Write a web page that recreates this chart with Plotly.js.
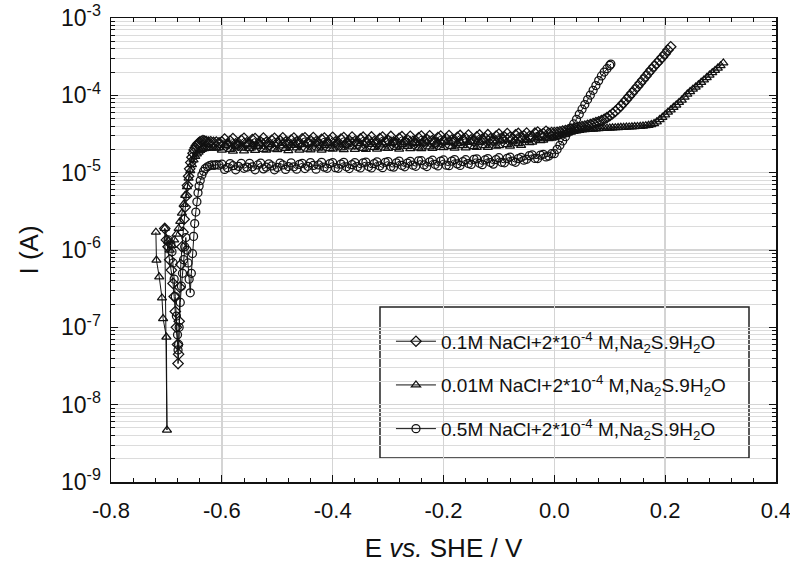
<!DOCTYPE html>
<html>
<head>
<meta charset="utf-8">
<script src="https://cdn.plot.ly/plotly-3.0.1.min.js"></script>
<style>html,body{margin:0;padding:0;background:#fff;}#chart{width:790px;height:570px;}</style>
</head>
<body>
<div id="chart"></div>
<script>
// ---- Data: E in V vs. SHE, current in microamperes (converted to A for plotting) ----

// 0.1M NaCl (diamonds)
const E_01 = [
  -0.703,-0.700,-0.697,-0.694,-0.691,-0.688,-0.686,-0.684,-0.682,-0.680,
  -0.679,-0.678,-0.677,-0.676,-0.674,-0.672,-0.670,-0.668,-0.666,-0.664,
  -0.662,-0.660,-0.658,-0.656,-0.654,-0.652,-0.650,-0.648,-0.646,-0.644,
  -0.642,-0.640,-0.637,-0.634,-0.631,-0.628,-0.624,-0.620,-0.615,-0.610,
  -0.605,
  -0.600,-0.595,-0.590,-0.585,-0.580,-0.575,-0.570,-0.565,-0.560,-0.555,
  -0.550,-0.545,-0.540,-0.535,-0.530,-0.525,-0.520,-0.515,-0.510,-0.505,
  -0.500,-0.495,-0.490,-0.485,-0.480,-0.475,-0.470,-0.465,-0.460,-0.455,
  -0.450,-0.445,-0.440,-0.435,-0.430,-0.425,-0.420,-0.415,-0.410,-0.405,
  -0.400,-0.395,-0.390,-0.385,-0.380,-0.375,-0.370,-0.365,-0.360,-0.355,
  -0.350,-0.345,-0.340,-0.335,-0.330,-0.325,-0.320,-0.315,-0.310,-0.305,
  -0.300,-0.295,-0.290,-0.285,-0.280,-0.275,-0.270,-0.265,-0.260,-0.255,
  -0.250,-0.245,-0.240,-0.235,-0.230,-0.225,-0.220,-0.215,-0.210,-0.205,
  -0.200,-0.195,-0.190,-0.185,-0.180,-0.175,-0.170,-0.165,-0.160,-0.155,
  -0.150,-0.145,-0.140,-0.135,-0.130,-0.125,-0.120,-0.115,-0.110,-0.105,
  -0.100,-0.095,-0.090,-0.085,-0.080,-0.075,-0.070,-0.065,-0.060,-0.055,
  -0.050,-0.045,-0.040,-0.035,-0.030,-0.025,-0.020,-0.015,-0.010,-0.005,
  0.000,
  0.005,0.010,0.015,0.020,0.025,0.030,0.035,0.040,0.045,0.050,
  0.055,0.060,0.065,0.070,0.075,0.080,0.085,0.090,0.095,0.100,
  0.105,0.110,0.115,0.120,0.125,0.130,0.135,0.140,0.145,0.150,
  0.155,0.160,0.165,0.170,0.175,0.180,0.185,0.190,0.195,0.200,
  0.205,0.210
];
const I_01_uA = [
  1.9,1.35,1.1,0.75,0.55,0.37,0.25,0.16,0.1,0.06,
  0.034,0.045,0.12,0.33,0.65,1.1,1.7,2.5,3.6,5.0,
  6.8,9.0,11.2,13.5,15.8,17.8,19.6,21,22.3,23.3,
  24.2,24.8,25.5,26,25.6,25.2,24.8,25.1,24.6,24.9,
  24.4,
  25.0,27.2,23.2,25.6,27.6,23.6,22.6,26.2,27.8,24.4,
  23.0,26.8,27.6,23.4,25.0,28.0,24.6,22.8,26.2,27.9,
  24.2,25.9,28.3,24.8,22.9,26.4,28.1,25.0,23.3,27.4,
  28.2,24.0,25.9,28.5,25.1,23.1,27.0,28.0,24.4,26.2,
  28.6,25.0,23.3,27.2,28.4,24.2,25.9,28.9,25.3,23.6,
  27.3,28.8,24.6,26.4,29.0,25.2,23.6,27.6,28.9,25.0,
  26.1,29.4,25.0,23.9,27.8,29.2,25.1,26.6,29.6,25.5,
  24.3,28.2,29.8,25.4,26.9,30.0,25.9,24.5,28.5,29.7,
  25.6,27.6,30.2,26.4,24.9,28.7,30.3,26.5,27.8,30.6,
  26.6,25.4,29.0,30.8,27.1,28.2,31.0,27.5,25.9,29.8,
  31.6,28.0,29.0,32.0,28.6,27.4,30.8,32.2,29.1,30.0,
  32.6,29.6,29.4,32.4,33.5,31.0,32.0,34.2,32.4,33.1,
  33.0,
  33.2,33.8,34.5,35.1,35.8,36.4,37.1,37.8,38.5,39.3,
  40.1,41.0,42.0,43.1,44.3,45.6,47.2,49.0,51.5,54.5,
  58,62,67,73,80,88,97,107,118,130,
  144,159,176,195,215,237,260,285,312,345,
  385,425
];

// 0.01M NaCl (triangles)
const E_001 = [
  -0.719,-0.718,-0.713,-0.708,-0.706,-0.700,-0.699,-0.703,-0.697,-0.694,
  -0.690,-0.686,-0.682,-0.678,-0.675,-0.672,-0.669,-0.666,-0.663,-0.660,
  -0.657,-0.654,-0.651,-0.648,-0.645,-0.642,-0.639,-0.636,-0.632,-0.628,
  -0.624,-0.620,-0.615,-0.610,-0.605,
  -0.600,-0.595,-0.590,-0.585,-0.580,-0.575,-0.570,-0.565,-0.560,-0.555,
  -0.550,-0.545,-0.540,-0.535,-0.530,-0.525,-0.520,-0.515,-0.510,-0.505,
  -0.500,-0.495,-0.490,-0.485,-0.480,-0.475,-0.470,-0.465,-0.460,-0.455,
  -0.450,-0.445,-0.440,-0.435,-0.430,-0.425,-0.420,-0.415,-0.410,-0.405,
  -0.400,-0.395,-0.390,-0.385,-0.380,-0.375,-0.370,-0.365,-0.360,-0.355,
  -0.350,-0.345,-0.340,-0.335,-0.330,-0.325,-0.320,-0.315,-0.310,-0.305,
  -0.300,-0.295,-0.290,-0.285,-0.280,-0.275,-0.270,-0.265,-0.260,-0.255,
  -0.250,-0.245,-0.240,-0.235,-0.230,-0.225,-0.220,-0.215,-0.210,-0.205,
  -0.200,-0.195,-0.190,-0.185,-0.180,-0.175,-0.170,-0.165,-0.160,-0.155,
  -0.150,-0.145,-0.140,-0.135,-0.130,-0.125,-0.120,-0.115,-0.110,-0.105,
  -0.100,-0.095,-0.090,-0.085,-0.080,-0.075,-0.070,-0.065,-0.060,-0.055,
  -0.050,-0.045,-0.040,-0.035,-0.030,-0.025,-0.020,-0.015,-0.010,-0.005,
  0.000,
  0.005,0.010,0.015,0.020,0.025,0.030,0.035,0.040,0.045,0.050,
  0.055,0.060,0.065,0.070,0.075,0.080,0.085,0.090,0.095,0.100,
  0.105,0.110,0.115,0.120,0.125,0.130,0.135,0.140,0.145,0.150,
  0.155,0.160,0.165,0.170,0.175,0.180,0.185,0.190,0.195,0.200,
  0.205,0.210,0.215,0.220,0.225,0.230,0.235,0.240,0.245,0.250,
  0.255,0.260,0.265,0.270,0.275,0.280,0.285,0.290,0.295,0.300,
  0.305
];
const I_001_uA = [
  1.7,0.74,0.45,0.24,0.13,0.075,0.0047,1.9,1.3,1.0,
  1.15,1.35,1.6,1.9,2.35,3.0,3.9,5.1,6.6,8.5,
  10.6,12.7,14.6,16.2,17.5,18.5,19.4,20,20.5,20.8,
  21,20.7,21.1,20.8,21,
  19.6,22.6,23.6,20.0,19.0,22.0,23.4,20.8,19.2,23.0,
  20.5,23.3,19.4,21.9,23.8,20.0,19.6,22.8,23.2,20.3,
  19.8,22.2,23.9,20.6,19.3,22.5,23.5,21.0,19.6,23.4,
  23.1,20.2,19.7,22.9,24.0,20.8,19.5,22.4,23.8,20.5,
  20.1,23.4,24.2,21.0,19.8,22.8,24.1,21.5,20.0,23.7,
  23.9,20.6,20.0,23.2,24.4,21.3,20.1,22.9,24.3,20.8,
  20.6,23.8,24.6,21.2,20.2,23.1,24.5,21.8,20.4,24.0,
  24.5,21.0,20.5,23.6,24.9,21.6,20.6,23.4,24.8,21.3,
  21.1,24.4,25.2,21.8,20.8,23.8,25.1,22.4,21.0,24.7,
  25.1,21.7,21.2,24.5,25.6,22.3,21.3,24.2,25.5,22.0,
  22.3,25.6,26.3,23.0,22.1,25.0,26.4,23.7,22.6,26.2,
  26.9,24.5,24.8,27.4,28.3,25.9,26.3,28.8,27.6,28.0,
  28.4,
  29.2,30.0,30.9,31.8,32.7,33.5,34.2,34.8,35.3,35.7,
  36.0,36.3,36.5,36.7,36.9,37.1,37.3,37.5,37.6,37.8,
  38.0,38.1,38.3,38.5,38.6,38.8,39.0,39.2,39.4,39.6,
  39.8,40.1,40.5,41.0,41.8,43.2,45.5,48.5,52,56,
  60.5,65,70,75,81,87,95,104,112,120,
  128,137,147,158,170,183,196,210,225,242,
  262
];

// 0.5M NaCl (circles)
const E_05 = [
  -0.697,-0.692,-0.690,-0.688,-0.686,-0.684,-0.682,-0.680,-0.679,-0.678,
  -0.677,-0.675,-0.673,-0.671,-0.669,-0.667,-0.665,-0.663,-0.661,-0.659,
  -0.657,-0.655,-0.653,-0.651,-0.649,-0.647,-0.645,-0.643,-0.641,-0.639,
  -0.636,-0.633,-0.630,-0.626,-0.622,-0.618,-0.614,-0.610,-0.605,
  -0.600,-0.595,-0.590,-0.585,-0.580,-0.575,-0.570,-0.565,-0.560,-0.555,
  -0.550,-0.545,-0.540,-0.535,-0.530,-0.525,-0.520,-0.515,-0.510,-0.505,
  -0.500,-0.495,-0.490,-0.485,-0.480,-0.475,-0.470,-0.465,-0.460,-0.455,
  -0.450,-0.445,-0.440,-0.435,-0.430,-0.425,-0.420,-0.415,-0.410,-0.405,
  -0.400,-0.395,-0.390,-0.385,-0.380,-0.375,-0.370,-0.365,-0.360,-0.355,
  -0.350,-0.345,-0.340,-0.335,-0.330,-0.325,-0.320,-0.315,-0.310,-0.305,
  -0.300,-0.295,-0.290,-0.285,-0.280,-0.275,-0.270,-0.265,-0.260,-0.255,
  -0.250,-0.245,-0.240,-0.235,-0.230,-0.225,-0.220,-0.215,-0.210,-0.205,
  -0.200,-0.195,-0.190,-0.185,-0.180,-0.175,-0.170,-0.165,-0.160,-0.155,
  -0.150,-0.145,-0.140,-0.135,-0.130,-0.125,-0.120,-0.115,-0.110,-0.105,
  -0.100,-0.095,-0.090,-0.085,-0.080,-0.075,-0.070,-0.065,-0.060,-0.055,
  -0.050,-0.045,-0.040,-0.035,-0.030,-0.025,-0.020,-0.015,-0.010,-0.005,
  0.000,
  0.005,0.010,0.015,0.020,0.025,0.030,0.035,0.040,0.045,0.050,
  0.055,0.060,0.065,0.070,0.075,0.080,0.085,0.090,0.095,0.100,
  0.102
];
const I_05_uA = [
  1.35,1.2,0.95,0.68,0.42,0.25,0.14,0.08,0.051,0.06,
  0.1,0.21,0.34,0.5,0.75,1.1,1.45,1.0,0.68,0.42,
  0.28,0.5,0.9,1.5,2.2,3.1,4.2,5.5,6.7,7.9,
  9.3,10.4,11.3,11.9,12.3,12.6,12.4,12.7,12.5,
  12.9,11.0,11.6,13.1,12.3,10.9,12.1,13.2,11.4,11.8,
  13.2,11.9,10.9,12.6,13.3,11.2,11.8,13.0,12.2,10.9,
  11.7,13.3,12.6,11.0,12.0,13.4,11.9,11.1,12.8,13.2,
  11.3,12.1,13.5,12.4,11.1,12.6,13.6,11.8,11.4,13.1,
  13.5,11.6,11.4,12.9,13.6,11.9,11.3,12.7,13.5,12.0,
  11.5,13.4,13.7,12.0,11.5,13.1,13.8,12.2,11.6,13.6,
  13.9,12.0,11.8,13.4,14.1,12.4,11.9,13.3,14.0,12.5,
  12.1,14.2,14.3,12.6,12.0,13.8,14.5,12.8,12.2,14.1,
  14.6,12.5,12.3,14.1,14.8,13.0,12.4,13.9,14.7,13.1,
  12.8,14.9,15.1,13.2,12.7,14.6,15.2,13.5,12.9,14.8,
  15.6,13.6,13.4,15.3,15.9,14.1,13.6,15.2,15.8,14.5,
  14.9,16.6,17.0,15.3,15.2,16.9,17.3,16.0,16.4,17.6,
  17.6,
  20.0,22.6,25.7,29.2,33.1,37.6,42.7,49.0,56.9,66.1,
  75.9,88.1,101,116,134,155,178,200,221,244,
  254
];

const seriesNames = [
  '0.1M NaCl+2*10<sup>-4</sup> M,Na<sub>2</sub>S.9H<sub>2</sub>O',
  '0.01M NaCl+2*10<sup>-4</sup> M,Na<sub>2</sub>S.9H<sub>2</sub>O',
  '0.5M NaCl+2*10<sup>-4</sup> M,Na<sub>2</sub>S.9H<sub>2</sub>O'
];
const xTickVals = [-0.8,-0.6,-0.4,-0.2,0.0,0.2,0.4];
const xTickText = ['-0.8','-0.6','-0.4','-0.2','0.0','0.2','0.4'];
const yTickVals = [1e-9,1e-8,1e-7,1e-6,1e-5,1e-4,1e-3];
const yTickText = ['10<sup>-9</sup>','10<sup>-8</sup>','10<sup>-7</sup>','10<sup>-6</sup>','10<sup>-5</sup>','10<sup>-4</sup>','10<sup>-3</sup>'];

const toA = arr => arr.map(v => v * 1e-6);
const FONT = 'Liberation Sans, Arial, Helvetica, sans-serif';
const INK = '#111';

function mk(E, I, name, symbol, grp) {
  return {
    x: E, y: toA(I), name: name, type: 'scatter', mode: 'lines+markers',
    legendgroup: grp,
    line: {color: INK, width: 1},
    marker: {symbol: symbol, size: 8, color: INK, line: {color: INK, width: 1.25}}
  };
}

const data = [
  mk(E_01, I_01_uA, seriesNames[0], 'diamond-open', 'a'),
  mk(E_001, I_001_uA, seriesNames[1], 'triangle-up-open', 'b'),
  mk(E_05, I_05_uA, seriesNames[2], 'circle-open', 'c')
];

const layout = {
  width: 790, height: 570,
  margin: {l: 111, r: 14, t: 18, b: 88},
  paper_bgcolor: '#fff', plot_bgcolor: '#fff',
  font: {family: FONT, size: 22, color: INK},
  showlegend: true,
  legend: {
    x: 0.421, y: 0.344, xanchor: 'left', yanchor: 'top',
    bgcolor: 'rgba(0,0,0,0)', borderwidth: 0,
    font: {family: FONT, size: 19, color: INK},
    tracegroupgap: 16, itemwidth: 40
  },
  shapes: [{
    type: 'rect', xref: 'paper', yref: 'paper', layer: 'between',
    x0: 0.4045, x1: 0.9594, y0: 0.0517, y1: 0.3772,
    line: {color: '#222', width: 1.5}, fillcolor: '#fff'
  }],
  xaxis: {
    range: [-0.8, 0.4],
    tickmode: 'array', tickvals: xTickVals, ticktext: xTickText,
    ticks: 'inside', ticklen: 7, tickwidth: 1, tickcolor: INK,
    showline: true, linecolor: INK, linewidth: 1.5, mirror: 'ticks',
    showgrid: true, gridcolor: '#d4d4d4', gridwidth: 1.5, zeroline: false,
    minor: {dtick: 0.04, tick0: -0.8, ticks: 'inside', ticklen: 4, tickcolor: INK, showgrid: false},
    tickfont: {family: FONT, size: 22, color: INK},
    ticklabelstandoff: 8, ticklabeloverflow: 'allow',
    title: {text: 'E <i>vs.</i> SHE / V', font: {family: FONT, size: 26, color: INK}, standoff: 17}
  },
  yaxis: {
    type: 'log', range: [-9, -3],
    tickmode: 'array', tickvals: yTickVals, ticktext: yTickText,
    ticks: 'inside', ticklen: 7, tickwidth: 1, tickcolor: INK,
    showline: true, linecolor: INK, linewidth: 1.5, mirror: 'ticks',
    showgrid: true, gridcolor: '#d4d4d4', gridwidth: 1.5, zeroline: false,
    minor: {dtick: 'D1', ticks: 'inside', ticklen: 4, tickcolor: INK, showgrid: true, gridcolor: '#dcdcdc', gridwidth: 1},
    tickfont: {family: FONT, size: 23, color: INK},
    ticklabelstandoff: 4, ticklabeloverflow: 'allow',
    title: {text: 'I (A)', font: {family: FONT, size: 26, color: INK}, standoff: 15}
  }
};

Plotly.newPlot('chart', data, layout, {displayModeBar: false, staticPlot: true});
</script>
</body>
</html>
